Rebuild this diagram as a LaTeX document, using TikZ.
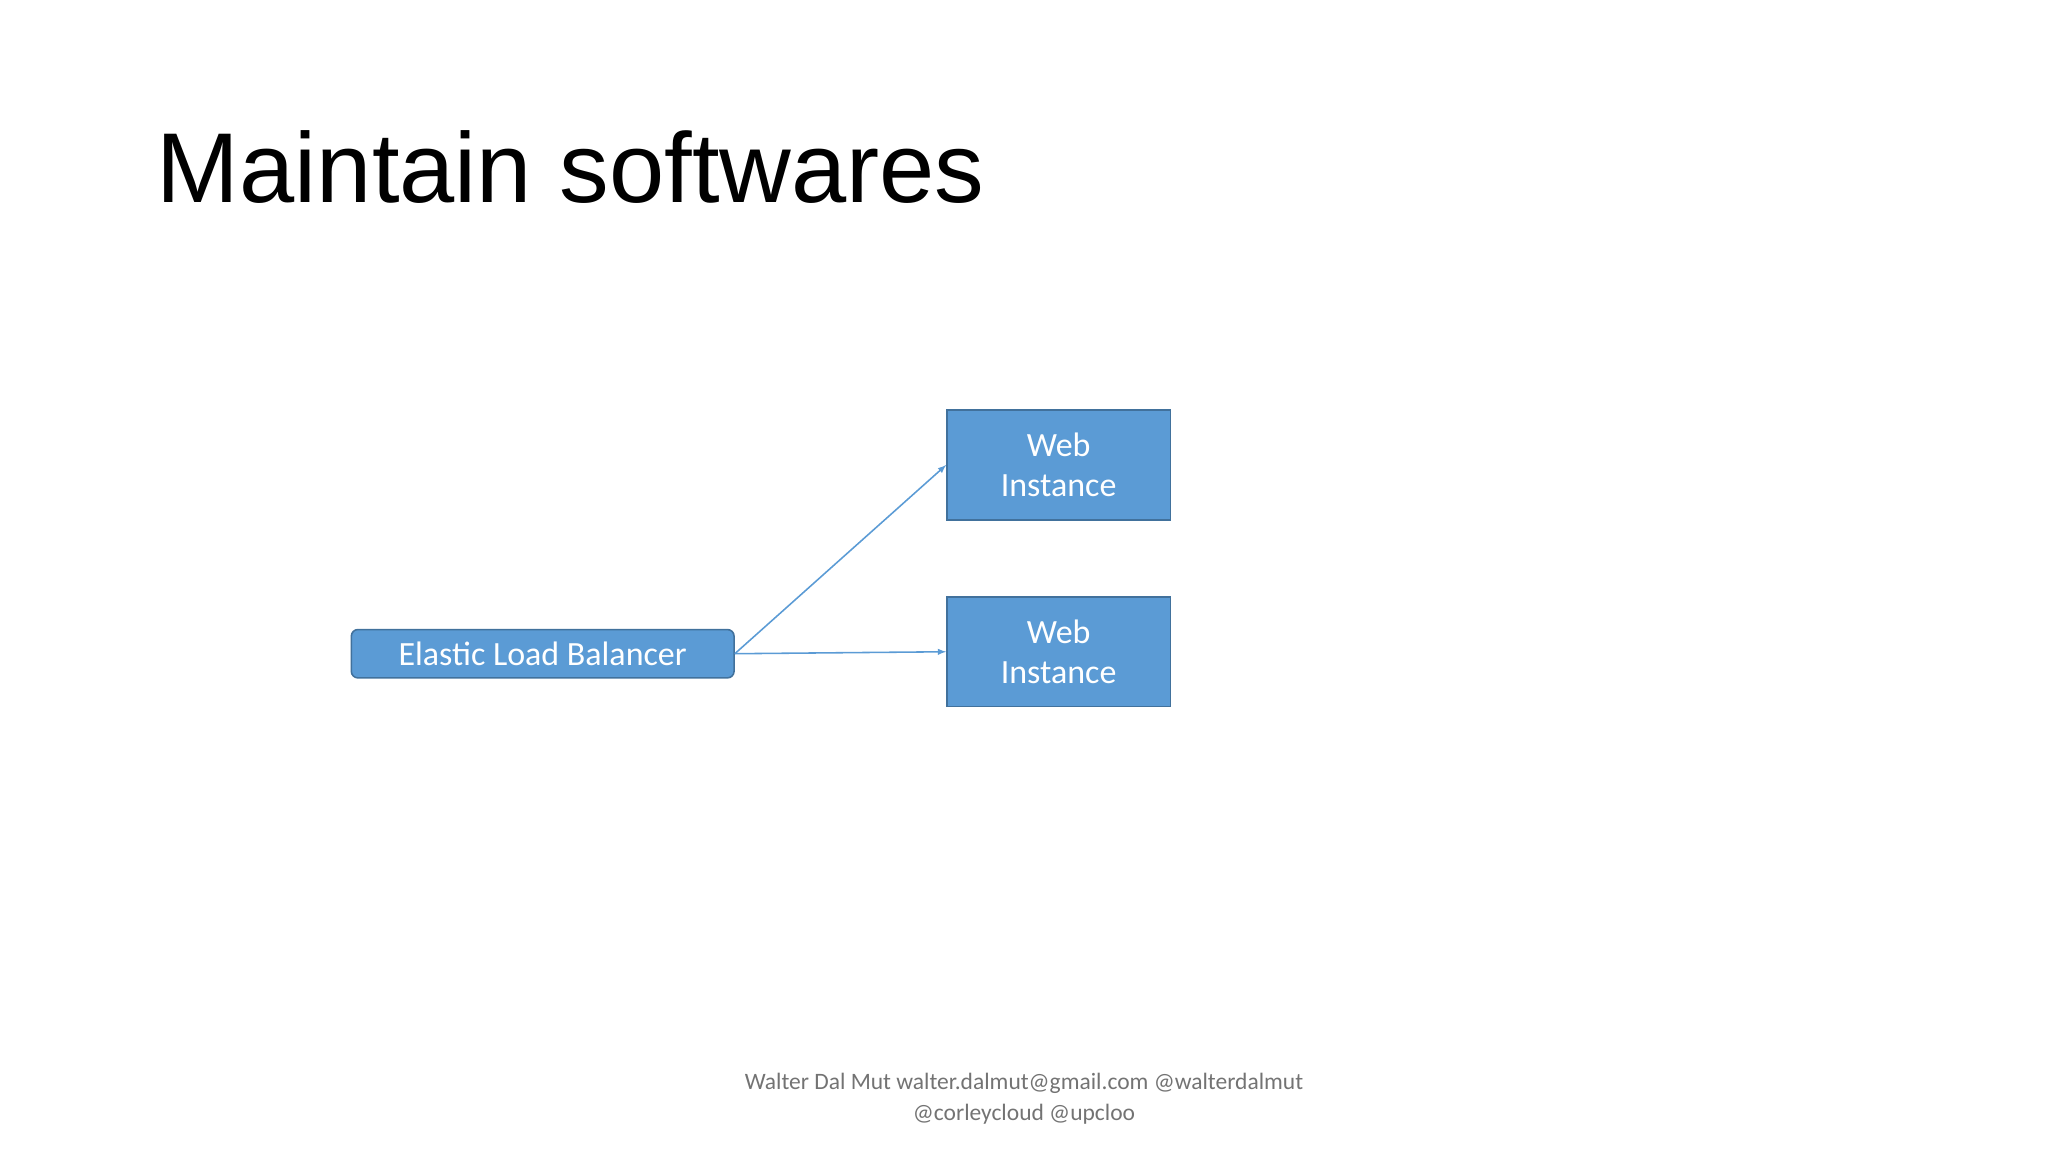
\documentclass[tikz,border=0pt]{standalone}
\usepackage{fontspec}
\setmainfont{Carlito}
\newfontfamily\arialf{Liberation Sans}
\definecolor{boxfill}{HTML}{5B9BD5}
\definecolor{boxline}{HTML}{41719C}
\begin{document}
\begin{tikzpicture}[x=1pt,y=-1pt,
  box/.style={draw=boxline,fill=boxfill,line width=1.2pt,text=white,font=\fontsize{26}{31}\selectfont,align=center,inner sep=0pt},
  conn/.style={draw=boxfill,line width=1.2pt,-{latex}}]
\useasboundingbox (0,0) rectangle (1568,882);
\node[anchor=base west,font=\arialf\fontsize{76}{90}\selectfont,inner sep=0pt] (title) at (120,155) {Maintain softwares};
\node[box,rounded corners=5pt,minimum width=293pt,minimum height=37pt] (elb) at (415.5,500.5) {Elastic Load Balancer};
\node[box,minimum width=171pt,minimum height=84pt] (w1) at (810.5,356) {Web\\Instance};
\node[box,minimum width=171pt,minimum height=84pt] (w2) at (810.5,499) {Web\\Instance};
\draw[conn] (elb.east) -- (w1.west);
\draw[conn] (elb.east) -- (w2.west);
\node[text=gray!90!black,font=\fontsize{18}{23.5}\selectfont,align=center,anchor=north] (foot) at (784,818) {Walter Dal Mut walter.dalmut@gmail.com @walterdalmut\\@corleycloud @upcloo};
\end{tikzpicture}
\end{document}
